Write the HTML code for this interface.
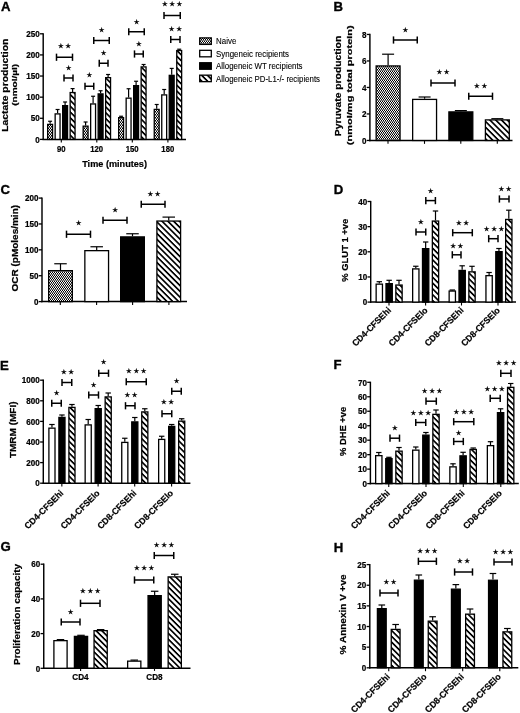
<!DOCTYPE html>
<html><head><meta charset="utf-8"><title>Figure</title>
<style>html,body{margin:0;padding:0;background:#fff;overflow:hidden}svg{display:block}</style>
</head><body>
<svg width="520" height="713" viewBox="0 0 520 713">
<defs>
<pattern id="pn" width="2" height="3" patternUnits="userSpaceOnUse"><rect width="2" height="3" fill="#000"/><rect x="0" y="0" width="1" height="1.5" fill="#fff"/><rect x="1" y="1.5" width="1" height="1.5" fill="#fff"/></pattern>
<pattern id="ph" width="4.1" height="4.1" patternUnits="userSpaceOnUse" patternTransform="rotate(45)"><rect width="4.1" height="4.1" fill="#fff"/><rect x="0" y="0" width="4.1" height="1.7" fill="#000"/></pattern>
</defs>
<rect width="520" height="713" fill="#fff"/>
<text x="0.90" y="10.90" font-family="Liberation Sans, sans-serif" font-weight="bold" font-size="13.2" text-anchor="start" stroke="#000" stroke-width="0.35">A</text>
<text x="333.40" y="10.50" font-family="Liberation Sans, sans-serif" font-weight="bold" font-size="13.2" text-anchor="start" stroke="#000" stroke-width="0.35">B</text>
<text x="0.50" y="194.00" font-family="Liberation Sans, sans-serif" font-weight="bold" font-size="13.2" text-anchor="start" stroke="#000" stroke-width="0.35">C</text>
<text x="333.80" y="193.80" font-family="Liberation Sans, sans-serif" font-weight="bold" font-size="13.2" text-anchor="start" stroke="#000" stroke-width="0.35">D</text>
<text x="0.10" y="369.50" font-family="Liberation Sans, sans-serif" font-weight="bold" font-size="13.2" text-anchor="start" stroke="#000" stroke-width="0.35">E</text>
<text x="333.60" y="369.10" font-family="Liberation Sans, sans-serif" font-weight="bold" font-size="13.2" text-anchor="start" stroke="#000" stroke-width="0.35">F</text>
<text x="0.50" y="551.40" font-family="Liberation Sans, sans-serif" font-weight="bold" font-size="13.2" text-anchor="start" stroke="#000" stroke-width="0.35">G</text>
<text x="333.70" y="551.50" font-family="Liberation Sans, sans-serif" font-weight="bold" font-size="13.2" text-anchor="start" stroke="#000" stroke-width="0.35">H</text>
<line x1="43.20" y1="33.20" x2="43.20" y2="140.10" stroke="#000" stroke-width="1.45"/>
<line x1="42.50" y1="139.40" x2="186.00" y2="139.40" stroke="#000" stroke-width="1.5"/>
<line x1="40.00" y1="139.40" x2="43.20" y2="139.40" stroke="#000" stroke-width="1.3"/>
<text x="39.70" y="142.60" font-family="Liberation Sans, sans-serif" font-weight="bold" font-size="8.8" text-anchor="end" textLength="4.5" lengthAdjust="spacingAndGlyphs" stroke="#000" stroke-width="0.22">0</text>
<line x1="40.00" y1="118.28" x2="43.20" y2="118.28" stroke="#000" stroke-width="1.3"/>
<text x="39.70" y="121.48" font-family="Liberation Sans, sans-serif" font-weight="bold" font-size="8.8" text-anchor="end" textLength="9.0" lengthAdjust="spacingAndGlyphs" stroke="#000" stroke-width="0.22">50</text>
<line x1="40.00" y1="97.16" x2="43.20" y2="97.16" stroke="#000" stroke-width="1.3"/>
<text x="39.70" y="100.36" font-family="Liberation Sans, sans-serif" font-weight="bold" font-size="8.8" text-anchor="end" textLength="13.5" lengthAdjust="spacingAndGlyphs" stroke="#000" stroke-width="0.22">100</text>
<line x1="40.00" y1="76.04" x2="43.20" y2="76.04" stroke="#000" stroke-width="1.3"/>
<text x="39.70" y="79.24" font-family="Liberation Sans, sans-serif" font-weight="bold" font-size="8.8" text-anchor="end" textLength="13.5" lengthAdjust="spacingAndGlyphs" stroke="#000" stroke-width="0.22">150</text>
<line x1="40.00" y1="54.92" x2="43.20" y2="54.92" stroke="#000" stroke-width="1.3"/>
<text x="39.70" y="58.12" font-family="Liberation Sans, sans-serif" font-weight="bold" font-size="8.8" text-anchor="end" textLength="13.5" lengthAdjust="spacingAndGlyphs" stroke="#000" stroke-width="0.22">200</text>
<line x1="40.00" y1="33.80" x2="43.20" y2="33.80" stroke="#000" stroke-width="1.3"/>
<text x="39.70" y="37.00" font-family="Liberation Sans, sans-serif" font-weight="bold" font-size="8.8" text-anchor="end" textLength="13.5" lengthAdjust="spacingAndGlyphs" stroke="#000" stroke-width="0.22">250</text>
<line x1="50.10" y1="121.25" x2="50.10" y2="123.75" stroke="#000" stroke-width="1.2"/>
<line x1="48.10" y1="121.25" x2="52.10" y2="121.25" stroke="#000" stroke-width="1.2"/>
<rect x="47.65" y="124.40" width="4.90" height="15.00" fill="url(#pn)" stroke="#000" stroke-width="1.3"/>
<line x1="57.60" y1="109.50" x2="57.60" y2="113.25" stroke="#000" stroke-width="1.2"/>
<line x1="55.60" y1="109.50" x2="59.60" y2="109.50" stroke="#000" stroke-width="1.2"/>
<rect x="55.15" y="113.90" width="4.90" height="25.50" fill="#fff" stroke="#000" stroke-width="1.3"/>
<line x1="65.10" y1="102.00" x2="65.10" y2="105.00" stroke="#000" stroke-width="1.2"/>
<line x1="63.10" y1="102.00" x2="67.10" y2="102.00" stroke="#000" stroke-width="1.2"/>
<rect x="62.65" y="105.65" width="4.90" height="33.75" fill="#000" stroke="#000" stroke-width="1.3"/>
<line x1="72.60" y1="88.60" x2="72.60" y2="91.90" stroke="#000" stroke-width="1.2"/>
<line x1="70.60" y1="88.60" x2="74.60" y2="88.60" stroke="#000" stroke-width="1.2"/>
<rect x="70.15" y="92.55" width="4.90" height="46.85" fill="url(#ph)" stroke="#000" stroke-width="1.3"/>
<line x1="85.60" y1="122.00" x2="85.60" y2="125.50" stroke="#000" stroke-width="1.2"/>
<line x1="83.60" y1="122.00" x2="87.60" y2="122.00" stroke="#000" stroke-width="1.2"/>
<rect x="83.15" y="126.15" width="4.90" height="13.25" fill="url(#pn)" stroke="#000" stroke-width="1.3"/>
<line x1="93.10" y1="96.25" x2="93.10" y2="103.30" stroke="#000" stroke-width="1.2"/>
<line x1="91.10" y1="96.25" x2="95.10" y2="96.25" stroke="#000" stroke-width="1.2"/>
<rect x="90.65" y="103.95" width="4.90" height="35.45" fill="#fff" stroke="#000" stroke-width="1.3"/>
<line x1="100.60" y1="90.75" x2="100.60" y2="93.25" stroke="#000" stroke-width="1.2"/>
<line x1="98.60" y1="90.75" x2="102.60" y2="90.75" stroke="#000" stroke-width="1.2"/>
<rect x="98.15" y="93.90" width="4.90" height="45.50" fill="#000" stroke="#000" stroke-width="1.3"/>
<line x1="108.10" y1="74.50" x2="108.10" y2="77.00" stroke="#000" stroke-width="1.2"/>
<line x1="106.10" y1="74.50" x2="110.10" y2="74.50" stroke="#000" stroke-width="1.2"/>
<rect x="105.65" y="77.65" width="4.90" height="61.75" fill="url(#ph)" stroke="#000" stroke-width="1.3"/>
<line x1="121.10" y1="116.25" x2="121.10" y2="117.00" stroke="#000" stroke-width="1.2"/>
<line x1="119.10" y1="116.25" x2="123.10" y2="116.25" stroke="#000" stroke-width="1.2"/>
<rect x="118.65" y="117.65" width="4.90" height="21.75" fill="url(#pn)" stroke="#000" stroke-width="1.3"/>
<line x1="128.60" y1="88.75" x2="128.60" y2="97.50" stroke="#000" stroke-width="1.2"/>
<line x1="126.60" y1="88.75" x2="130.60" y2="88.75" stroke="#000" stroke-width="1.2"/>
<rect x="126.15" y="98.15" width="4.90" height="41.25" fill="#fff" stroke="#000" stroke-width="1.3"/>
<line x1="136.10" y1="81.25" x2="136.10" y2="85.00" stroke="#000" stroke-width="1.2"/>
<line x1="134.10" y1="81.25" x2="138.10" y2="81.25" stroke="#000" stroke-width="1.2"/>
<rect x="133.65" y="85.65" width="4.90" height="53.75" fill="#000" stroke="#000" stroke-width="1.3"/>
<line x1="143.60" y1="64.50" x2="143.60" y2="66.25" stroke="#000" stroke-width="1.2"/>
<line x1="141.60" y1="64.50" x2="145.60" y2="64.50" stroke="#000" stroke-width="1.2"/>
<rect x="141.15" y="66.90" width="4.90" height="72.50" fill="url(#ph)" stroke="#000" stroke-width="1.3"/>
<line x1="156.70" y1="104.50" x2="156.70" y2="108.75" stroke="#000" stroke-width="1.2"/>
<line x1="154.70" y1="104.50" x2="158.70" y2="104.50" stroke="#000" stroke-width="1.2"/>
<rect x="154.25" y="109.40" width="4.90" height="30.00" fill="url(#pn)" stroke="#000" stroke-width="1.3"/>
<line x1="164.20" y1="89.50" x2="164.20" y2="94.25" stroke="#000" stroke-width="1.2"/>
<line x1="162.20" y1="89.50" x2="166.20" y2="89.50" stroke="#000" stroke-width="1.2"/>
<rect x="161.75" y="94.90" width="4.90" height="44.50" fill="#fff" stroke="#000" stroke-width="1.3"/>
<line x1="171.70" y1="68.40" x2="171.70" y2="74.70" stroke="#000" stroke-width="1.2"/>
<line x1="169.70" y1="68.40" x2="173.70" y2="68.40" stroke="#000" stroke-width="1.2"/>
<rect x="169.25" y="75.35" width="4.90" height="64.05" fill="#000" stroke="#000" stroke-width="1.3"/>
<line x1="179.20" y1="49.20" x2="179.20" y2="49.90" stroke="#000" stroke-width="1.2"/>
<line x1="177.20" y1="49.20" x2="181.20" y2="49.20" stroke="#000" stroke-width="1.2"/>
<rect x="176.75" y="50.55" width="4.90" height="88.85" fill="url(#ph)" stroke="#000" stroke-width="1.3"/>
<line x1="61.30" y1="139.40" x2="61.30" y2="142.40" stroke="#000" stroke-width="1.1"/>
<line x1="96.80" y1="139.40" x2="96.80" y2="142.40" stroke="#000" stroke-width="1.1"/>
<line x1="132.30" y1="139.40" x2="132.30" y2="142.40" stroke="#000" stroke-width="1.1"/>
<line x1="167.90" y1="139.40" x2="167.90" y2="142.40" stroke="#000" stroke-width="1.1"/>
<text x="61.20" y="151.50" font-family="Liberation Sans, sans-serif" font-weight="bold" font-size="8.6" text-anchor="middle" textLength="8.6" lengthAdjust="spacingAndGlyphs" stroke="#000" stroke-width="0.22">90</text>
<text x="96.70" y="151.50" font-family="Liberation Sans, sans-serif" font-weight="bold" font-size="8.6" text-anchor="middle" textLength="12.9" lengthAdjust="spacingAndGlyphs" stroke="#000" stroke-width="0.22">120</text>
<text x="132.20" y="151.50" font-family="Liberation Sans, sans-serif" font-weight="bold" font-size="8.6" text-anchor="middle" textLength="12.9" lengthAdjust="spacingAndGlyphs" stroke="#000" stroke-width="0.22">150</text>
<text x="167.80" y="151.50" font-family="Liberation Sans, sans-serif" font-weight="bold" font-size="8.6" text-anchor="middle" textLength="12.9" lengthAdjust="spacingAndGlyphs" stroke="#000" stroke-width="0.22">180</text>
<text x="114.60" y="167.10" font-family="Liberation Sans, sans-serif" font-weight="bold" font-size="9.7" text-anchor="middle" textLength="64.8" lengthAdjust="spacingAndGlyphs" stroke="#000" stroke-width="0.22">Time (minutes)</text>
<text x="8.50" y="85.20" font-family="Liberation Sans, sans-serif" font-weight="bold" font-size="9" text-anchor="middle" textLength="93.0" lengthAdjust="spacingAndGlyphs" transform="rotate(-90 8.50 85.20)" stroke="#000" stroke-width="0.22">Lactate production</text>
<text x="17.10" y="84.80" font-family="Liberation Sans, sans-serif" font-weight="bold" font-size="8" text-anchor="middle" textLength="42.0" lengthAdjust="spacingAndGlyphs" transform="rotate(-90 17.10 84.80)" stroke="#000" stroke-width="0.22">(nmol/µl)</text>
<line x1="56.50" y1="57.25" x2="72.50" y2="57.25" stroke="#000" stroke-width="1.5"/>
<line x1="56.50" y1="53.65" x2="56.50" y2="60.85" stroke="#000" stroke-width="1.5"/>
<line x1="72.50" y1="53.65" x2="72.50" y2="60.85" stroke="#000" stroke-width="1.5"/>
<text x="60.85" y="48.25" font-family="DejaVu Sans, sans-serif" font-size="6.4" text-anchor="middle" stroke="#000" stroke-width="0.3">★</text>
<text x="68.15" y="48.25" font-family="DejaVu Sans, sans-serif" font-size="6.4" text-anchor="middle" stroke="#000" stroke-width="0.3">★</text>
<line x1="64.00" y1="78.00" x2="73.00" y2="78.00" stroke="#000" stroke-width="1.5"/>
<line x1="64.00" y1="74.40" x2="64.00" y2="81.60" stroke="#000" stroke-width="1.5"/>
<line x1="73.00" y1="74.40" x2="73.00" y2="81.60" stroke="#000" stroke-width="1.5"/>
<text x="68.50" y="69.50" font-family="DejaVu Sans, sans-serif" font-size="6.4" text-anchor="middle" stroke="#000" stroke-width="0.3">★</text>
<line x1="85.00" y1="86.25" x2="93.75" y2="86.25" stroke="#000" stroke-width="1.5"/>
<line x1="85.00" y1="82.65" x2="85.00" y2="89.85" stroke="#000" stroke-width="1.5"/>
<line x1="93.75" y1="82.65" x2="93.75" y2="89.85" stroke="#000" stroke-width="1.5"/>
<text x="89.38" y="76.50" font-family="DejaVu Sans, sans-serif" font-size="6.4" text-anchor="middle" stroke="#000" stroke-width="0.3">★</text>
<line x1="93.75" y1="40.50" x2="109.25" y2="40.50" stroke="#000" stroke-width="1.5"/>
<line x1="93.75" y1="36.90" x2="93.75" y2="44.10" stroke="#000" stroke-width="1.5"/>
<line x1="109.25" y1="36.90" x2="109.25" y2="44.10" stroke="#000" stroke-width="1.5"/>
<text x="101.50" y="32.00" font-family="DejaVu Sans, sans-serif" font-size="6.4" text-anchor="middle" stroke="#000" stroke-width="0.3">★</text>
<line x1="99.25" y1="63.25" x2="108.00" y2="63.25" stroke="#000" stroke-width="1.5"/>
<line x1="99.25" y1="59.65" x2="99.25" y2="66.85" stroke="#000" stroke-width="1.5"/>
<line x1="108.00" y1="59.65" x2="108.00" y2="66.85" stroke="#000" stroke-width="1.5"/>
<text x="103.62" y="55.00" font-family="DejaVu Sans, sans-serif" font-size="6.4" text-anchor="middle" stroke="#000" stroke-width="0.3">★</text>
<line x1="128.75" y1="31.75" x2="144.25" y2="31.75" stroke="#000" stroke-width="1.5"/>
<line x1="128.75" y1="28.15" x2="128.75" y2="35.35" stroke="#000" stroke-width="1.5"/>
<line x1="144.25" y1="28.15" x2="144.25" y2="35.35" stroke="#000" stroke-width="1.5"/>
<text x="136.50" y="23.50" font-family="DejaVu Sans, sans-serif" font-size="6.4" text-anchor="middle" stroke="#000" stroke-width="0.3">★</text>
<line x1="134.50" y1="54.00" x2="143.25" y2="54.00" stroke="#000" stroke-width="1.5"/>
<line x1="134.50" y1="50.40" x2="134.50" y2="57.60" stroke="#000" stroke-width="1.5"/>
<line x1="143.25" y1="50.40" x2="143.25" y2="57.60" stroke="#000" stroke-width="1.5"/>
<text x="138.88" y="45.50" font-family="DejaVu Sans, sans-serif" font-size="6.4" text-anchor="middle" stroke="#000" stroke-width="0.3">★</text>
<line x1="164.00" y1="15.50" x2="180.25" y2="15.50" stroke="#000" stroke-width="1.5"/>
<line x1="164.00" y1="11.90" x2="164.00" y2="19.10" stroke="#000" stroke-width="1.5"/>
<line x1="180.25" y1="11.90" x2="180.25" y2="19.10" stroke="#000" stroke-width="1.5"/>
<text x="164.82" y="6.40" font-family="DejaVu Sans, sans-serif" font-size="6.4" text-anchor="middle" stroke="#000" stroke-width="0.3">★</text>
<text x="172.12" y="6.40" font-family="DejaVu Sans, sans-serif" font-size="6.4" text-anchor="middle" stroke="#000" stroke-width="0.3">★</text>
<text x="179.43" y="6.40" font-family="DejaVu Sans, sans-serif" font-size="6.4" text-anchor="middle" stroke="#000" stroke-width="0.3">★</text>
<line x1="170.75" y1="39.50" x2="180.00" y2="39.50" stroke="#000" stroke-width="1.5"/>
<line x1="170.75" y1="35.90" x2="170.75" y2="43.10" stroke="#000" stroke-width="1.5"/>
<line x1="180.00" y1="35.90" x2="180.00" y2="43.10" stroke="#000" stroke-width="1.5"/>
<text x="171.72" y="30.75" font-family="DejaVu Sans, sans-serif" font-size="6.4" text-anchor="middle" stroke="#000" stroke-width="0.3">★</text>
<text x="179.03" y="30.75" font-family="DejaVu Sans, sans-serif" font-size="6.4" text-anchor="middle" stroke="#000" stroke-width="0.3">★</text>
<rect x="199.7" y="37.90" width="11.6" height="6.5" fill="url(#pn)" stroke="#000" stroke-width="1.3"/>
<text x="216.10" y="44.25" font-family="Liberation Sans, sans-serif" font-size="9.3" text-anchor="start" textLength="20.2" lengthAdjust="spacingAndGlyphs" stroke="#000" stroke-width="0.12">Naive</text>
<rect x="199.7" y="50.32" width="11.6" height="6.5" fill="#fff" stroke="#000" stroke-width="1.3"/>
<text x="216.10" y="56.67" font-family="Liberation Sans, sans-serif" font-size="9.3" text-anchor="start" textLength="72.9" lengthAdjust="spacingAndGlyphs" stroke="#000" stroke-width="0.12">Syngeneic recipients</text>
<rect x="199.7" y="62.74" width="11.6" height="6.5" fill="#000" stroke="#000" stroke-width="1.3"/>
<text x="216.10" y="69.09" font-family="Liberation Sans, sans-serif" font-size="9.3" text-anchor="start" textLength="86.4" lengthAdjust="spacingAndGlyphs" stroke="#000" stroke-width="0.12">Allogeneic WT recipients</text>
<rect x="199.7" y="75.16" width="11.6" height="6.5" fill="url(#ph)" stroke="#000" stroke-width="1.3"/>
<text x="216.10" y="81.51" font-family="Liberation Sans, sans-serif" font-size="9.3" text-anchor="start" textLength="103.9" lengthAdjust="spacingAndGlyphs" stroke="#000" stroke-width="0.12">Allogeneic PD-L1-/- recipients</text>
<line x1="369.90" y1="33.80" x2="369.90" y2="141.15" stroke="#000" stroke-width="1.45"/>
<line x1="369.20" y1="140.45" x2="512.50" y2="140.45" stroke="#000" stroke-width="1.5"/>
<line x1="366.70" y1="140.45" x2="369.90" y2="140.45" stroke="#000" stroke-width="1.3"/>
<text x="366.40" y="143.65" font-family="Liberation Sans, sans-serif" font-weight="bold" font-size="8.8" text-anchor="end" textLength="4.5" lengthAdjust="spacingAndGlyphs" stroke="#000" stroke-width="0.22">0</text>
<line x1="366.70" y1="113.95" x2="369.90" y2="113.95" stroke="#000" stroke-width="1.3"/>
<text x="366.40" y="117.15" font-family="Liberation Sans, sans-serif" font-weight="bold" font-size="8.8" text-anchor="end" textLength="4.5" lengthAdjust="spacingAndGlyphs" stroke="#000" stroke-width="0.22">2</text>
<line x1="366.70" y1="87.45" x2="369.90" y2="87.45" stroke="#000" stroke-width="1.3"/>
<text x="366.40" y="90.65" font-family="Liberation Sans, sans-serif" font-weight="bold" font-size="8.8" text-anchor="end" textLength="4.5" lengthAdjust="spacingAndGlyphs" stroke="#000" stroke-width="0.22">4</text>
<line x1="366.70" y1="60.95" x2="369.90" y2="60.95" stroke="#000" stroke-width="1.3"/>
<text x="366.40" y="64.15" font-family="Liberation Sans, sans-serif" font-weight="bold" font-size="8.8" text-anchor="end" textLength="4.5" lengthAdjust="spacingAndGlyphs" stroke="#000" stroke-width="0.22">6</text>
<line x1="366.70" y1="34.45" x2="369.90" y2="34.45" stroke="#000" stroke-width="1.3"/>
<text x="366.40" y="37.65" font-family="Liberation Sans, sans-serif" font-weight="bold" font-size="8.8" text-anchor="end" textLength="4.5" lengthAdjust="spacingAndGlyphs" stroke="#000" stroke-width="0.22">8</text>
<line x1="388.10" y1="54.20" x2="388.10" y2="65.30" stroke="#000" stroke-width="1.2"/>
<line x1="382.10" y1="54.20" x2="394.10" y2="54.20" stroke="#000" stroke-width="1.2"/>
<rect x="376.15" y="65.95" width="23.90" height="74.50" fill="url(#pn)" stroke="#000" stroke-width="1.3"/>
<line x1="424.60" y1="97.00" x2="424.60" y2="98.75" stroke="#000" stroke-width="1.2"/>
<line x1="418.60" y1="97.00" x2="430.60" y2="97.00" stroke="#000" stroke-width="1.2"/>
<rect x="412.65" y="99.40" width="23.90" height="41.05" fill="#fff" stroke="#000" stroke-width="1.3"/>
<line x1="460.85" y1="110.60" x2="460.85" y2="111.25" stroke="#000" stroke-width="1.2"/>
<line x1="454.85" y1="110.60" x2="466.85" y2="110.60" stroke="#000" stroke-width="1.2"/>
<rect x="448.90" y="111.90" width="23.90" height="28.55" fill="#000" stroke="#000" stroke-width="1.3"/>
<line x1="497.35" y1="118.70" x2="497.35" y2="119.25" stroke="#000" stroke-width="1.2"/>
<line x1="491.35" y1="118.70" x2="503.35" y2="118.70" stroke="#000" stroke-width="1.2"/>
<rect x="485.40" y="119.90" width="23.90" height="20.55" fill="url(#ph)" stroke="#000" stroke-width="1.3"/>
<line x1="388.00" y1="140.45" x2="388.00" y2="143.85" stroke="#000" stroke-width="1.1"/>
<line x1="424.50" y1="140.45" x2="424.50" y2="143.85" stroke="#000" stroke-width="1.1"/>
<line x1="460.80" y1="140.45" x2="460.80" y2="143.85" stroke="#000" stroke-width="1.1"/>
<line x1="497.30" y1="140.45" x2="497.30" y2="143.85" stroke="#000" stroke-width="1.1"/>
<text x="341.10" y="86.00" font-family="Liberation Sans, sans-serif" font-weight="bold" font-size="8.4" text-anchor="middle" textLength="100.4" lengthAdjust="spacingAndGlyphs" transform="rotate(-90 341.10 86.00)" stroke="#000" stroke-width="0.22">Pyruvate production</text>
<text x="352.20" y="85.20" font-family="Liberation Sans, sans-serif" font-weight="bold" font-size="7.7" text-anchor="middle" textLength="120.0" lengthAdjust="spacingAndGlyphs" transform="rotate(-90 352.20 85.20)" stroke="#000" stroke-width="0.22">(nmol/mg total protein)</text>
<line x1="393.50" y1="40.00" x2="417.25" y2="40.00" stroke="#000" stroke-width="1.5"/>
<line x1="393.50" y1="36.40" x2="393.50" y2="43.60" stroke="#000" stroke-width="1.5"/>
<line x1="417.25" y1="36.40" x2="417.25" y2="43.60" stroke="#000" stroke-width="1.5"/>
<text x="405.38" y="32.00" font-family="DejaVu Sans, sans-serif" font-size="6.4" text-anchor="middle" stroke="#000" stroke-width="0.3">★</text>
<line x1="431.00" y1="83.00" x2="455.00" y2="83.00" stroke="#000" stroke-width="1.5"/>
<line x1="431.00" y1="79.40" x2="431.00" y2="86.60" stroke="#000" stroke-width="1.5"/>
<line x1="455.00" y1="79.40" x2="455.00" y2="86.60" stroke="#000" stroke-width="1.5"/>
<text x="439.35" y="74.25" font-family="DejaVu Sans, sans-serif" font-size="6.4" text-anchor="middle" stroke="#000" stroke-width="0.3">★</text>
<text x="446.65" y="74.25" font-family="DejaVu Sans, sans-serif" font-size="6.4" text-anchor="middle" stroke="#000" stroke-width="0.3">★</text>
<line x1="468.75" y1="96.25" x2="492.50" y2="96.25" stroke="#000" stroke-width="1.5"/>
<line x1="468.75" y1="92.65" x2="468.75" y2="99.85" stroke="#000" stroke-width="1.5"/>
<line x1="492.50" y1="92.65" x2="492.50" y2="99.85" stroke="#000" stroke-width="1.5"/>
<text x="476.98" y="88.00" font-family="DejaVu Sans, sans-serif" font-size="6.4" text-anchor="middle" stroke="#000" stroke-width="0.3">★</text>
<text x="484.27" y="88.00" font-family="DejaVu Sans, sans-serif" font-size="6.4" text-anchor="middle" stroke="#000" stroke-width="0.3">★</text>
<line x1="42.00" y1="197.50" x2="42.00" y2="302.30" stroke="#000" stroke-width="1.45"/>
<line x1="41.30" y1="301.60" x2="187.00" y2="301.60" stroke="#000" stroke-width="1.5"/>
<line x1="38.80" y1="301.60" x2="42.00" y2="301.60" stroke="#000" stroke-width="1.3"/>
<text x="38.50" y="304.80" font-family="Liberation Sans, sans-serif" font-weight="bold" font-size="8.8" text-anchor="end" textLength="4.5" lengthAdjust="spacingAndGlyphs" stroke="#000" stroke-width="0.22">0</text>
<line x1="38.80" y1="275.72" x2="42.00" y2="275.72" stroke="#000" stroke-width="1.3"/>
<text x="38.50" y="278.92" font-family="Liberation Sans, sans-serif" font-weight="bold" font-size="8.8" text-anchor="end" textLength="9.0" lengthAdjust="spacingAndGlyphs" stroke="#000" stroke-width="0.22">50</text>
<line x1="38.80" y1="249.84" x2="42.00" y2="249.84" stroke="#000" stroke-width="1.3"/>
<text x="38.50" y="253.04" font-family="Liberation Sans, sans-serif" font-weight="bold" font-size="8.8" text-anchor="end" textLength="13.5" lengthAdjust="spacingAndGlyphs" stroke="#000" stroke-width="0.22">100</text>
<line x1="38.80" y1="223.96" x2="42.00" y2="223.96" stroke="#000" stroke-width="1.3"/>
<text x="38.50" y="227.16" font-family="Liberation Sans, sans-serif" font-weight="bold" font-size="8.8" text-anchor="end" textLength="13.5" lengthAdjust="spacingAndGlyphs" stroke="#000" stroke-width="0.22">150</text>
<line x1="38.80" y1="198.08" x2="42.00" y2="198.08" stroke="#000" stroke-width="1.3"/>
<text x="38.50" y="201.28" font-family="Liberation Sans, sans-serif" font-weight="bold" font-size="8.8" text-anchor="end" textLength="13.5" lengthAdjust="spacingAndGlyphs" stroke="#000" stroke-width="0.22">200</text>
<line x1="60.50" y1="263.75" x2="60.50" y2="270.00" stroke="#000" stroke-width="1.2"/>
<line x1="54.25" y1="263.75" x2="66.75" y2="263.75" stroke="#000" stroke-width="1.2"/>
<rect x="48.65" y="270.65" width="23.70" height="30.95" fill="url(#pn)" stroke="#000" stroke-width="1.3"/>
<line x1="96.70" y1="246.75" x2="96.70" y2="250.00" stroke="#000" stroke-width="1.2"/>
<line x1="90.45" y1="246.75" x2="102.95" y2="246.75" stroke="#000" stroke-width="1.2"/>
<rect x="84.85" y="250.65" width="23.70" height="50.95" fill="#fff" stroke="#000" stroke-width="1.3"/>
<line x1="132.50" y1="233.75" x2="132.50" y2="236.25" stroke="#000" stroke-width="1.2"/>
<line x1="126.25" y1="233.75" x2="138.75" y2="233.75" stroke="#000" stroke-width="1.2"/>
<rect x="120.65" y="236.90" width="23.70" height="64.70" fill="#000" stroke="#000" stroke-width="1.3"/>
<line x1="168.75" y1="217.10" x2="168.75" y2="220.40" stroke="#000" stroke-width="1.2"/>
<line x1="162.50" y1="217.10" x2="175.00" y2="217.10" stroke="#000" stroke-width="1.2"/>
<rect x="156.90" y="221.05" width="23.70" height="80.55" fill="url(#ph)" stroke="#000" stroke-width="1.3"/>
<line x1="60.30" y1="301.60" x2="60.30" y2="305.00" stroke="#000" stroke-width="1.1"/>
<line x1="96.60" y1="301.60" x2="96.60" y2="305.00" stroke="#000" stroke-width="1.1"/>
<line x1="132.60" y1="301.60" x2="132.60" y2="305.00" stroke="#000" stroke-width="1.1"/>
<line x1="168.90" y1="301.60" x2="168.90" y2="305.00" stroke="#000" stroke-width="1.1"/>
<text x="17.70" y="248.20" font-family="Liberation Sans, sans-serif" font-weight="bold" font-size="8.5" text-anchor="middle" textLength="86.5" lengthAdjust="spacingAndGlyphs" transform="rotate(-90 17.70 248.20)" stroke="#000" stroke-width="0.22">OCR (pMoles/min)</text>
<line x1="66.50" y1="234.25" x2="90.50" y2="234.25" stroke="#000" stroke-width="1.5"/>
<line x1="66.50" y1="230.65" x2="66.50" y2="237.85" stroke="#000" stroke-width="1.5"/>
<line x1="90.50" y1="230.65" x2="90.50" y2="237.85" stroke="#000" stroke-width="1.5"/>
<text x="78.50" y="225.40" font-family="DejaVu Sans, sans-serif" font-size="6.4" text-anchor="middle" stroke="#000" stroke-width="0.3">★</text>
<line x1="103.00" y1="220.25" x2="127.00" y2="220.25" stroke="#000" stroke-width="1.5"/>
<line x1="103.00" y1="216.65" x2="103.00" y2="223.85" stroke="#000" stroke-width="1.5"/>
<line x1="127.00" y1="216.65" x2="127.00" y2="223.85" stroke="#000" stroke-width="1.5"/>
<text x="115.00" y="211.70" font-family="DejaVu Sans, sans-serif" font-size="6.4" text-anchor="middle" stroke="#000" stroke-width="0.3">★</text>
<line x1="141.25" y1="204.25" x2="165.00" y2="204.25" stroke="#000" stroke-width="1.5"/>
<line x1="141.25" y1="200.65" x2="141.25" y2="207.85" stroke="#000" stroke-width="1.5"/>
<line x1="165.00" y1="200.65" x2="165.00" y2="207.85" stroke="#000" stroke-width="1.5"/>
<text x="150.25" y="195.80" font-family="DejaVu Sans, sans-serif" font-size="6.4" text-anchor="middle" stroke="#000" stroke-width="0.3">★</text>
<text x="157.55" y="195.80" font-family="DejaVu Sans, sans-serif" font-size="6.4" text-anchor="middle" stroke="#000" stroke-width="0.3">★</text>
<line x1="370.70" y1="200.90" x2="370.70" y2="302.80" stroke="#000" stroke-width="1.45"/>
<line x1="370.00" y1="302.10" x2="516.00" y2="302.10" stroke="#000" stroke-width="1.5"/>
<line x1="367.50" y1="302.10" x2="370.70" y2="302.10" stroke="#000" stroke-width="1.3"/>
<text x="367.20" y="305.30" font-family="Liberation Sans, sans-serif" font-weight="bold" font-size="8.8" text-anchor="end" textLength="4.5" lengthAdjust="spacingAndGlyphs" stroke="#000" stroke-width="0.22">0</text>
<line x1="367.50" y1="276.95" x2="370.70" y2="276.95" stroke="#000" stroke-width="1.3"/>
<text x="367.20" y="280.15" font-family="Liberation Sans, sans-serif" font-weight="bold" font-size="8.8" text-anchor="end" textLength="9.0" lengthAdjust="spacingAndGlyphs" stroke="#000" stroke-width="0.22">10</text>
<line x1="367.50" y1="251.80" x2="370.70" y2="251.80" stroke="#000" stroke-width="1.3"/>
<text x="367.20" y="255.00" font-family="Liberation Sans, sans-serif" font-weight="bold" font-size="8.8" text-anchor="end" textLength="9.0" lengthAdjust="spacingAndGlyphs" stroke="#000" stroke-width="0.22">20</text>
<line x1="367.50" y1="226.65" x2="370.70" y2="226.65" stroke="#000" stroke-width="1.3"/>
<text x="367.20" y="229.85" font-family="Liberation Sans, sans-serif" font-weight="bold" font-size="8.8" text-anchor="end" textLength="9.0" lengthAdjust="spacingAndGlyphs" stroke="#000" stroke-width="0.22">30</text>
<line x1="367.50" y1="201.50" x2="370.70" y2="201.50" stroke="#000" stroke-width="1.3"/>
<text x="367.20" y="204.70" font-family="Liberation Sans, sans-serif" font-weight="bold" font-size="8.8" text-anchor="end" textLength="9.0" lengthAdjust="spacingAndGlyphs" stroke="#000" stroke-width="0.22">40</text>
<line x1="379.30" y1="281.70" x2="379.30" y2="283.50" stroke="#000" stroke-width="1.2"/>
<line x1="376.60" y1="281.70" x2="382.00" y2="281.70" stroke="#000" stroke-width="1.2"/>
<rect x="376.15" y="284.15" width="6.30" height="17.95" fill="#fff" stroke="#000" stroke-width="1.3"/>
<line x1="389.15" y1="280.30" x2="389.15" y2="283.00" stroke="#000" stroke-width="1.2"/>
<line x1="386.45" y1="280.30" x2="391.85" y2="280.30" stroke="#000" stroke-width="1.2"/>
<rect x="386.00" y="283.65" width="6.30" height="18.45" fill="#000" stroke="#000" stroke-width="1.3"/>
<line x1="399.00" y1="280.30" x2="399.00" y2="284.40" stroke="#000" stroke-width="1.2"/>
<line x1="396.30" y1="280.30" x2="401.70" y2="280.30" stroke="#000" stroke-width="1.2"/>
<rect x="395.85" y="285.05" width="6.30" height="17.05" fill="url(#ph)" stroke="#000" stroke-width="1.3"/>
<line x1="415.80" y1="266.25" x2="415.80" y2="268.25" stroke="#000" stroke-width="1.2"/>
<line x1="413.10" y1="266.25" x2="418.50" y2="266.25" stroke="#000" stroke-width="1.2"/>
<rect x="412.65" y="268.90" width="6.30" height="33.20" fill="#fff" stroke="#000" stroke-width="1.3"/>
<line x1="425.65" y1="242.00" x2="425.65" y2="248.00" stroke="#000" stroke-width="1.2"/>
<line x1="422.95" y1="242.00" x2="428.35" y2="242.00" stroke="#000" stroke-width="1.2"/>
<rect x="422.50" y="248.65" width="6.30" height="53.45" fill="#000" stroke="#000" stroke-width="1.3"/>
<line x1="435.50" y1="211.00" x2="435.50" y2="220.40" stroke="#000" stroke-width="1.2"/>
<line x1="432.80" y1="211.00" x2="438.20" y2="211.00" stroke="#000" stroke-width="1.2"/>
<rect x="432.35" y="221.05" width="6.30" height="81.05" fill="url(#ph)" stroke="#000" stroke-width="1.3"/>
<line x1="452.30" y1="290.00" x2="452.30" y2="290.40" stroke="#000" stroke-width="1.2"/>
<line x1="449.60" y1="290.00" x2="455.00" y2="290.00" stroke="#000" stroke-width="1.2"/>
<rect x="449.15" y="291.05" width="6.30" height="11.05" fill="#fff" stroke="#000" stroke-width="1.3"/>
<line x1="462.15" y1="265.80" x2="462.15" y2="269.80" stroke="#000" stroke-width="1.2"/>
<line x1="459.45" y1="265.80" x2="464.85" y2="265.80" stroke="#000" stroke-width="1.2"/>
<rect x="459.00" y="270.45" width="6.30" height="31.65" fill="#000" stroke="#000" stroke-width="1.3"/>
<line x1="472.00" y1="266.30" x2="472.00" y2="271.20" stroke="#000" stroke-width="1.2"/>
<line x1="469.30" y1="266.30" x2="474.70" y2="266.30" stroke="#000" stroke-width="1.2"/>
<rect x="468.85" y="271.85" width="6.30" height="30.25" fill="url(#ph)" stroke="#000" stroke-width="1.3"/>
<line x1="489.10" y1="272.50" x2="489.10" y2="275.00" stroke="#000" stroke-width="1.2"/>
<line x1="486.40" y1="272.50" x2="491.80" y2="272.50" stroke="#000" stroke-width="1.2"/>
<rect x="485.95" y="275.65" width="6.30" height="26.45" fill="#fff" stroke="#000" stroke-width="1.3"/>
<line x1="498.95" y1="248.50" x2="498.95" y2="251.00" stroke="#000" stroke-width="1.2"/>
<line x1="496.25" y1="248.50" x2="501.65" y2="248.50" stroke="#000" stroke-width="1.2"/>
<rect x="495.80" y="251.65" width="6.30" height="50.45" fill="#000" stroke="#000" stroke-width="1.3"/>
<line x1="508.80" y1="210.20" x2="508.80" y2="218.80" stroke="#000" stroke-width="1.2"/>
<line x1="506.10" y1="210.20" x2="511.50" y2="210.20" stroke="#000" stroke-width="1.2"/>
<rect x="505.65" y="219.45" width="6.30" height="82.65" fill="url(#ph)" stroke="#000" stroke-width="1.3"/>
<line x1="389.00" y1="302.10" x2="389.00" y2="305.50" stroke="#000" stroke-width="1.1"/>
<line x1="425.60" y1="302.10" x2="425.60" y2="305.50" stroke="#000" stroke-width="1.1"/>
<line x1="461.50" y1="302.10" x2="461.50" y2="305.50" stroke="#000" stroke-width="1.1"/>
<line x1="498.00" y1="302.10" x2="498.00" y2="305.50" stroke="#000" stroke-width="1.1"/>
<text x="391.60" y="310.90" font-family="Liberation Sans, sans-serif" font-weight="bold" font-size="8.9" text-anchor="end" textLength="50.8" lengthAdjust="spacingAndGlyphs" transform="rotate(-45 391.60 310.90)" stroke="#000" stroke-width="0.22">CD4-CFSEhi</text>
<text x="428.20" y="310.90" font-family="Liberation Sans, sans-serif" font-weight="bold" font-size="8.9" text-anchor="end" textLength="50.8" lengthAdjust="spacingAndGlyphs" transform="rotate(-45 428.20 310.90)" stroke="#000" stroke-width="0.22">CD4-CFSElo</text>
<text x="464.10" y="310.90" font-family="Liberation Sans, sans-serif" font-weight="bold" font-size="8.9" text-anchor="end" textLength="50.8" lengthAdjust="spacingAndGlyphs" transform="rotate(-45 464.10 310.90)" stroke="#000" stroke-width="0.22">CD8-CFSEhi</text>
<text x="500.60" y="310.90" font-family="Liberation Sans, sans-serif" font-weight="bold" font-size="8.9" text-anchor="end" textLength="50.8" lengthAdjust="spacingAndGlyphs" transform="rotate(-45 500.60 310.90)" stroke="#000" stroke-width="0.22">CD8-CFSElo</text>
<text x="347.80" y="250.20" font-family="Liberation Sans, sans-serif" font-weight="bold" font-size="9" text-anchor="middle" textLength="63.0" lengthAdjust="spacingAndGlyphs" transform="rotate(-90 347.80 250.20)" stroke="#000" stroke-width="0.22">% GLUT 1 +ve</text>
<line x1="416.00" y1="232.00" x2="425.75" y2="232.00" stroke="#000" stroke-width="1.5"/>
<line x1="416.00" y1="228.40" x2="416.00" y2="235.60" stroke="#000" stroke-width="1.5"/>
<line x1="425.75" y1="228.40" x2="425.75" y2="235.60" stroke="#000" stroke-width="1.5"/>
<text x="420.88" y="224.00" font-family="DejaVu Sans, sans-serif" font-size="6.4" text-anchor="middle" stroke="#000" stroke-width="0.3">★</text>
<line x1="425.80" y1="200.60" x2="435.40" y2="200.60" stroke="#000" stroke-width="1.5"/>
<line x1="425.80" y1="197.00" x2="425.80" y2="204.20" stroke="#000" stroke-width="1.5"/>
<line x1="435.40" y1="197.00" x2="435.40" y2="204.20" stroke="#000" stroke-width="1.5"/>
<text x="430.60" y="192.90" font-family="DejaVu Sans, sans-serif" font-size="6.4" text-anchor="middle" stroke="#000" stroke-width="0.3">★</text>
<line x1="452.70" y1="232.70" x2="472.30" y2="232.70" stroke="#000" stroke-width="1.5"/>
<line x1="452.70" y1="229.10" x2="452.70" y2="236.30" stroke="#000" stroke-width="1.5"/>
<line x1="472.30" y1="229.10" x2="472.30" y2="236.30" stroke="#000" stroke-width="1.5"/>
<text x="458.85" y="225.00" font-family="DejaVu Sans, sans-serif" font-size="6.4" text-anchor="middle" stroke="#000" stroke-width="0.3">★</text>
<text x="466.15" y="225.00" font-family="DejaVu Sans, sans-serif" font-size="6.4" text-anchor="middle" stroke="#000" stroke-width="0.3">★</text>
<line x1="452.30" y1="254.80" x2="461.00" y2="254.80" stroke="#000" stroke-width="1.5"/>
<line x1="452.30" y1="251.20" x2="452.30" y2="258.40" stroke="#000" stroke-width="1.5"/>
<line x1="461.00" y1="251.20" x2="461.00" y2="258.40" stroke="#000" stroke-width="1.5"/>
<text x="453.00" y="247.70" font-family="DejaVu Sans, sans-serif" font-size="6.4" text-anchor="middle" stroke="#000" stroke-width="0.3">★</text>
<text x="460.30" y="247.70" font-family="DejaVu Sans, sans-serif" font-size="6.4" text-anchor="middle" stroke="#000" stroke-width="0.3">★</text>
<line x1="488.70" y1="238.70" x2="498.00" y2="238.70" stroke="#000" stroke-width="1.5"/>
<line x1="488.70" y1="235.10" x2="488.70" y2="242.30" stroke="#000" stroke-width="1.5"/>
<line x1="498.00" y1="235.10" x2="498.00" y2="242.30" stroke="#000" stroke-width="1.5"/>
<text x="486.70" y="231.30" font-family="DejaVu Sans, sans-serif" font-size="6.4" text-anchor="middle" stroke="#000" stroke-width="0.3">★</text>
<text x="494.00" y="231.30" font-family="DejaVu Sans, sans-serif" font-size="6.4" text-anchor="middle" stroke="#000" stroke-width="0.3">★</text>
<text x="501.30" y="231.30" font-family="DejaVu Sans, sans-serif" font-size="6.4" text-anchor="middle" stroke="#000" stroke-width="0.3">★</text>
<line x1="499.40" y1="199.00" x2="509.00" y2="199.00" stroke="#000" stroke-width="1.5"/>
<line x1="499.40" y1="195.40" x2="499.40" y2="202.60" stroke="#000" stroke-width="1.5"/>
<line x1="509.00" y1="195.40" x2="509.00" y2="202.60" stroke="#000" stroke-width="1.5"/>
<text x="501.35" y="190.50" font-family="DejaVu Sans, sans-serif" font-size="6.4" text-anchor="middle" stroke="#000" stroke-width="0.3">★</text>
<text x="508.65" y="190.50" font-family="DejaVu Sans, sans-serif" font-size="6.4" text-anchor="middle" stroke="#000" stroke-width="0.3">★</text>
<line x1="43.30" y1="379.50" x2="43.30" y2="483.90" stroke="#000" stroke-width="1.45"/>
<line x1="42.60" y1="483.20" x2="190.40" y2="483.20" stroke="#000" stroke-width="1.5"/>
<line x1="40.10" y1="483.20" x2="43.30" y2="483.20" stroke="#000" stroke-width="1.3"/>
<text x="39.80" y="486.40" font-family="Liberation Sans, sans-serif" font-weight="bold" font-size="8.8" text-anchor="end" textLength="4.5" lengthAdjust="spacingAndGlyphs" stroke="#000" stroke-width="0.22">0</text>
<line x1="40.10" y1="462.60" x2="43.30" y2="462.60" stroke="#000" stroke-width="1.3"/>
<text x="39.80" y="465.80" font-family="Liberation Sans, sans-serif" font-weight="bold" font-size="8.8" text-anchor="end" textLength="13.5" lengthAdjust="spacingAndGlyphs" stroke="#000" stroke-width="0.22">200</text>
<line x1="40.10" y1="442.00" x2="43.30" y2="442.00" stroke="#000" stroke-width="1.3"/>
<text x="39.80" y="445.20" font-family="Liberation Sans, sans-serif" font-weight="bold" font-size="8.8" text-anchor="end" textLength="13.5" lengthAdjust="spacingAndGlyphs" stroke="#000" stroke-width="0.22">400</text>
<line x1="40.10" y1="421.40" x2="43.30" y2="421.40" stroke="#000" stroke-width="1.3"/>
<text x="39.80" y="424.60" font-family="Liberation Sans, sans-serif" font-weight="bold" font-size="8.8" text-anchor="end" textLength="13.5" lengthAdjust="spacingAndGlyphs" stroke="#000" stroke-width="0.22">600</text>
<line x1="40.10" y1="400.80" x2="43.30" y2="400.80" stroke="#000" stroke-width="1.3"/>
<text x="39.80" y="404.00" font-family="Liberation Sans, sans-serif" font-weight="bold" font-size="8.8" text-anchor="end" textLength="13.5" lengthAdjust="spacingAndGlyphs" stroke="#000" stroke-width="0.22">800</text>
<line x1="40.10" y1="380.20" x2="43.30" y2="380.20" stroke="#000" stroke-width="1.3"/>
<text x="39.80" y="383.40" font-family="Liberation Sans, sans-serif" font-weight="bold" font-size="8.8" text-anchor="end" textLength="18.0" lengthAdjust="spacingAndGlyphs" stroke="#000" stroke-width="0.22">1000</text>
<line x1="51.95" y1="424.50" x2="51.95" y2="427.50" stroke="#000" stroke-width="1.2"/>
<line x1="49.25" y1="424.50" x2="54.65" y2="424.50" stroke="#000" stroke-width="1.2"/>
<rect x="48.90" y="428.15" width="6.10" height="55.05" fill="#fff" stroke="#000" stroke-width="1.3"/>
<line x1="61.95" y1="415.00" x2="61.95" y2="416.75" stroke="#000" stroke-width="1.2"/>
<line x1="59.25" y1="415.00" x2="64.65" y2="415.00" stroke="#000" stroke-width="1.2"/>
<rect x="58.90" y="417.40" width="6.10" height="65.80" fill="#000" stroke="#000" stroke-width="1.3"/>
<line x1="71.95" y1="404.50" x2="71.95" y2="406.75" stroke="#000" stroke-width="1.2"/>
<line x1="69.25" y1="404.50" x2="74.65" y2="404.50" stroke="#000" stroke-width="1.2"/>
<rect x="68.90" y="407.40" width="6.10" height="75.80" fill="url(#ph)" stroke="#000" stroke-width="1.3"/>
<line x1="88.20" y1="419.50" x2="88.20" y2="424.25" stroke="#000" stroke-width="1.2"/>
<line x1="85.50" y1="419.50" x2="90.90" y2="419.50" stroke="#000" stroke-width="1.2"/>
<rect x="85.15" y="424.90" width="6.10" height="58.30" fill="#fff" stroke="#000" stroke-width="1.3"/>
<line x1="98.20" y1="405.50" x2="98.20" y2="408.00" stroke="#000" stroke-width="1.2"/>
<line x1="95.50" y1="405.50" x2="100.90" y2="405.50" stroke="#000" stroke-width="1.2"/>
<rect x="95.15" y="408.65" width="6.10" height="74.55" fill="#000" stroke="#000" stroke-width="1.3"/>
<line x1="108.20" y1="393.00" x2="108.20" y2="396.25" stroke="#000" stroke-width="1.2"/>
<line x1="105.50" y1="393.00" x2="110.90" y2="393.00" stroke="#000" stroke-width="1.2"/>
<rect x="105.15" y="396.90" width="6.10" height="86.30" fill="url(#ph)" stroke="#000" stroke-width="1.3"/>
<line x1="124.80" y1="438.25" x2="124.80" y2="441.75" stroke="#000" stroke-width="1.2"/>
<line x1="122.10" y1="438.25" x2="127.50" y2="438.25" stroke="#000" stroke-width="1.2"/>
<rect x="121.75" y="442.40" width="6.10" height="40.80" fill="#fff" stroke="#000" stroke-width="1.3"/>
<line x1="134.80" y1="417.50" x2="134.80" y2="421.25" stroke="#000" stroke-width="1.2"/>
<line x1="132.10" y1="417.50" x2="137.50" y2="417.50" stroke="#000" stroke-width="1.2"/>
<rect x="131.75" y="421.90" width="6.10" height="61.30" fill="#000" stroke="#000" stroke-width="1.3"/>
<line x1="144.80" y1="408.75" x2="144.80" y2="411.25" stroke="#000" stroke-width="1.2"/>
<line x1="142.10" y1="408.75" x2="147.50" y2="408.75" stroke="#000" stroke-width="1.2"/>
<rect x="141.75" y="411.90" width="6.10" height="71.30" fill="url(#ph)" stroke="#000" stroke-width="1.3"/>
<line x1="161.70" y1="436.25" x2="161.70" y2="438.75" stroke="#000" stroke-width="1.2"/>
<line x1="159.00" y1="436.25" x2="164.40" y2="436.25" stroke="#000" stroke-width="1.2"/>
<rect x="158.65" y="439.40" width="6.10" height="43.80" fill="#fff" stroke="#000" stroke-width="1.3"/>
<line x1="171.70" y1="424.50" x2="171.70" y2="425.75" stroke="#000" stroke-width="1.2"/>
<line x1="169.00" y1="424.50" x2="174.40" y2="424.50" stroke="#000" stroke-width="1.2"/>
<rect x="168.65" y="426.40" width="6.10" height="56.80" fill="#000" stroke="#000" stroke-width="1.3"/>
<line x1="181.70" y1="418.75" x2="181.70" y2="420.50" stroke="#000" stroke-width="1.2"/>
<line x1="179.00" y1="418.75" x2="184.40" y2="418.75" stroke="#000" stroke-width="1.2"/>
<rect x="178.65" y="421.15" width="6.10" height="62.05" fill="url(#ph)" stroke="#000" stroke-width="1.3"/>
<line x1="61.85" y1="483.20" x2="61.85" y2="486.60" stroke="#000" stroke-width="1.1"/>
<line x1="98.10" y1="483.20" x2="98.10" y2="486.60" stroke="#000" stroke-width="1.1"/>
<line x1="134.70" y1="483.20" x2="134.70" y2="486.60" stroke="#000" stroke-width="1.1"/>
<line x1="171.60" y1="483.20" x2="171.60" y2="486.60" stroke="#000" stroke-width="1.1"/>
<text x="64.05" y="493.70" font-family="Liberation Sans, sans-serif" font-weight="bold" font-size="8.9" text-anchor="end" textLength="50.8" lengthAdjust="spacingAndGlyphs" transform="rotate(-45 64.05 493.70)" stroke="#000" stroke-width="0.22">CD4-CFSEhi</text>
<text x="100.30" y="493.70" font-family="Liberation Sans, sans-serif" font-weight="bold" font-size="8.9" text-anchor="end" textLength="50.8" lengthAdjust="spacingAndGlyphs" transform="rotate(-45 100.30 493.70)" stroke="#000" stroke-width="0.22">CD4-CFSElo</text>
<text x="136.90" y="493.70" font-family="Liberation Sans, sans-serif" font-weight="bold" font-size="8.9" text-anchor="end" textLength="50.8" lengthAdjust="spacingAndGlyphs" transform="rotate(-45 136.90 493.70)" stroke="#000" stroke-width="0.22">CD8-CFSEhi</text>
<text x="173.80" y="493.70" font-family="Liberation Sans, sans-serif" font-weight="bold" font-size="8.9" text-anchor="end" textLength="50.8" lengthAdjust="spacingAndGlyphs" transform="rotate(-45 173.80 493.70)" stroke="#000" stroke-width="0.22">CD8-CFSElo</text>
<text x="15.70" y="429.80" font-family="Liberation Sans, sans-serif" font-weight="bold" font-size="9" text-anchor="middle" textLength="56.6" lengthAdjust="spacingAndGlyphs" transform="rotate(-90 15.70 429.80)" stroke="#000" stroke-width="0.22">TMRM (MFI)</text>
<line x1="51.75" y1="403.25" x2="61.25" y2="403.25" stroke="#000" stroke-width="1.5"/>
<line x1="51.75" y1="399.65" x2="51.75" y2="406.85" stroke="#000" stroke-width="1.5"/>
<line x1="61.25" y1="399.65" x2="61.25" y2="406.85" stroke="#000" stroke-width="1.5"/>
<text x="56.50" y="394.60" font-family="DejaVu Sans, sans-serif" font-size="6.4" text-anchor="middle" stroke="#000" stroke-width="0.3">★</text>
<line x1="62.00" y1="382.50" x2="71.75" y2="382.50" stroke="#000" stroke-width="1.5"/>
<line x1="62.00" y1="378.90" x2="62.00" y2="386.10" stroke="#000" stroke-width="1.5"/>
<line x1="71.75" y1="378.90" x2="71.75" y2="386.10" stroke="#000" stroke-width="1.5"/>
<text x="63.85" y="373.60" font-family="DejaVu Sans, sans-serif" font-size="6.4" text-anchor="middle" stroke="#000" stroke-width="0.3">★</text>
<text x="71.15" y="373.60" font-family="DejaVu Sans, sans-serif" font-size="6.4" text-anchor="middle" stroke="#000" stroke-width="0.3">★</text>
<line x1="88.75" y1="395.00" x2="98.50" y2="395.00" stroke="#000" stroke-width="1.5"/>
<line x1="88.75" y1="391.40" x2="88.75" y2="398.60" stroke="#000" stroke-width="1.5"/>
<line x1="98.50" y1="391.40" x2="98.50" y2="398.60" stroke="#000" stroke-width="1.5"/>
<text x="93.62" y="386.70" font-family="DejaVu Sans, sans-serif" font-size="6.4" text-anchor="middle" stroke="#000" stroke-width="0.3">★</text>
<line x1="98.75" y1="373.25" x2="108.50" y2="373.25" stroke="#000" stroke-width="1.5"/>
<line x1="98.75" y1="369.65" x2="98.75" y2="376.85" stroke="#000" stroke-width="1.5"/>
<line x1="108.50" y1="369.65" x2="108.50" y2="376.85" stroke="#000" stroke-width="1.5"/>
<text x="103.62" y="364.30" font-family="DejaVu Sans, sans-serif" font-size="6.4" text-anchor="middle" stroke="#000" stroke-width="0.3">★</text>
<line x1="126.25" y1="381.75" x2="146.25" y2="381.75" stroke="#000" stroke-width="1.5"/>
<line x1="126.25" y1="378.15" x2="126.25" y2="385.35" stroke="#000" stroke-width="1.5"/>
<line x1="146.25" y1="378.15" x2="146.25" y2="385.35" stroke="#000" stroke-width="1.5"/>
<text x="128.95" y="373.20" font-family="DejaVu Sans, sans-serif" font-size="6.4" text-anchor="middle" stroke="#000" stroke-width="0.3">★</text>
<text x="136.25" y="373.20" font-family="DejaVu Sans, sans-serif" font-size="6.4" text-anchor="middle" stroke="#000" stroke-width="0.3">★</text>
<text x="143.55" y="373.20" font-family="DejaVu Sans, sans-serif" font-size="6.4" text-anchor="middle" stroke="#000" stroke-width="0.3">★</text>
<line x1="125.50" y1="405.75" x2="135.00" y2="405.75" stroke="#000" stroke-width="1.5"/>
<line x1="125.50" y1="402.15" x2="125.50" y2="409.35" stroke="#000" stroke-width="1.5"/>
<line x1="135.00" y1="402.15" x2="135.00" y2="409.35" stroke="#000" stroke-width="1.5"/>
<text x="127.35" y="396.80" font-family="DejaVu Sans, sans-serif" font-size="6.4" text-anchor="middle" stroke="#000" stroke-width="0.3">★</text>
<text x="134.65" y="396.80" font-family="DejaVu Sans, sans-serif" font-size="6.4" text-anchor="middle" stroke="#000" stroke-width="0.3">★</text>
<line x1="162.00" y1="413.75" x2="171.75" y2="413.75" stroke="#000" stroke-width="1.5"/>
<line x1="162.00" y1="410.15" x2="162.00" y2="417.35" stroke="#000" stroke-width="1.5"/>
<line x1="171.75" y1="410.15" x2="171.75" y2="417.35" stroke="#000" stroke-width="1.5"/>
<text x="163.75" y="404.25" font-family="DejaVu Sans, sans-serif" font-size="6.4" text-anchor="middle" stroke="#000" stroke-width="0.3">★</text>
<text x="171.05" y="404.25" font-family="DejaVu Sans, sans-serif" font-size="6.4" text-anchor="middle" stroke="#000" stroke-width="0.3">★</text>
<line x1="171.75" y1="391.25" x2="181.25" y2="391.25" stroke="#000" stroke-width="1.5"/>
<line x1="171.75" y1="387.65" x2="171.75" y2="394.85" stroke="#000" stroke-width="1.5"/>
<line x1="181.25" y1="387.65" x2="181.25" y2="394.85" stroke="#000" stroke-width="1.5"/>
<text x="176.50" y="383.00" font-family="DejaVu Sans, sans-serif" font-size="6.4" text-anchor="middle" stroke="#000" stroke-width="0.3">★</text>
<line x1="370.40" y1="381.70" x2="370.40" y2="484.30" stroke="#000" stroke-width="1.45"/>
<line x1="369.70" y1="483.60" x2="518.80" y2="483.60" stroke="#000" stroke-width="1.5"/>
<line x1="367.20" y1="483.60" x2="370.40" y2="483.60" stroke="#000" stroke-width="1.3"/>
<text x="366.90" y="486.80" font-family="Liberation Sans, sans-serif" font-weight="bold" font-size="8.8" text-anchor="end" textLength="4.5" lengthAdjust="spacingAndGlyphs" stroke="#000" stroke-width="0.22">0</text>
<line x1="367.20" y1="469.13" x2="370.40" y2="469.13" stroke="#000" stroke-width="1.3"/>
<text x="366.90" y="472.33" font-family="Liberation Sans, sans-serif" font-weight="bold" font-size="8.8" text-anchor="end" textLength="9.0" lengthAdjust="spacingAndGlyphs" stroke="#000" stroke-width="0.22">10</text>
<line x1="367.20" y1="454.66" x2="370.40" y2="454.66" stroke="#000" stroke-width="1.3"/>
<text x="366.90" y="457.86" font-family="Liberation Sans, sans-serif" font-weight="bold" font-size="8.8" text-anchor="end" textLength="9.0" lengthAdjust="spacingAndGlyphs" stroke="#000" stroke-width="0.22">20</text>
<line x1="367.20" y1="440.19" x2="370.40" y2="440.19" stroke="#000" stroke-width="1.3"/>
<text x="366.90" y="443.39" font-family="Liberation Sans, sans-serif" font-weight="bold" font-size="8.8" text-anchor="end" textLength="9.0" lengthAdjust="spacingAndGlyphs" stroke="#000" stroke-width="0.22">30</text>
<line x1="367.20" y1="425.72" x2="370.40" y2="425.72" stroke="#000" stroke-width="1.3"/>
<text x="366.90" y="428.92" font-family="Liberation Sans, sans-serif" font-weight="bold" font-size="8.8" text-anchor="end" textLength="9.0" lengthAdjust="spacingAndGlyphs" stroke="#000" stroke-width="0.22">40</text>
<line x1="367.20" y1="411.25" x2="370.40" y2="411.25" stroke="#000" stroke-width="1.3"/>
<text x="366.90" y="414.45" font-family="Liberation Sans, sans-serif" font-weight="bold" font-size="8.8" text-anchor="end" textLength="9.0" lengthAdjust="spacingAndGlyphs" stroke="#000" stroke-width="0.22">50</text>
<line x1="367.20" y1="396.78" x2="370.40" y2="396.78" stroke="#000" stroke-width="1.3"/>
<text x="366.90" y="399.98" font-family="Liberation Sans, sans-serif" font-weight="bold" font-size="8.8" text-anchor="end" textLength="9.0" lengthAdjust="spacingAndGlyphs" stroke="#000" stroke-width="0.22">60</text>
<line x1="367.20" y1="382.31" x2="370.40" y2="382.31" stroke="#000" stroke-width="1.3"/>
<text x="366.90" y="385.51" font-family="Liberation Sans, sans-serif" font-weight="bold" font-size="8.8" text-anchor="end" textLength="9.0" lengthAdjust="spacingAndGlyphs" stroke="#000" stroke-width="0.22">70</text>
<line x1="378.80" y1="452.50" x2="378.80" y2="455.00" stroke="#000" stroke-width="1.2"/>
<line x1="376.10" y1="452.50" x2="381.50" y2="452.50" stroke="#000" stroke-width="1.2"/>
<rect x="375.65" y="455.65" width="6.30" height="27.95" fill="#fff" stroke="#000" stroke-width="1.3"/>
<line x1="388.90" y1="457.30" x2="388.90" y2="458.00" stroke="#000" stroke-width="1.2"/>
<line x1="386.20" y1="457.30" x2="391.60" y2="457.30" stroke="#000" stroke-width="1.2"/>
<rect x="385.75" y="458.65" width="6.30" height="24.95" fill="#000" stroke="#000" stroke-width="1.3"/>
<line x1="399.00" y1="447.50" x2="399.00" y2="450.50" stroke="#000" stroke-width="1.2"/>
<line x1="396.30" y1="447.50" x2="401.70" y2="447.50" stroke="#000" stroke-width="1.2"/>
<rect x="395.85" y="451.15" width="6.30" height="32.45" fill="url(#ph)" stroke="#000" stroke-width="1.3"/>
<line x1="415.80" y1="447.00" x2="415.80" y2="449.50" stroke="#000" stroke-width="1.2"/>
<line x1="413.10" y1="447.00" x2="418.50" y2="447.00" stroke="#000" stroke-width="1.2"/>
<rect x="412.65" y="450.15" width="6.30" height="33.45" fill="#fff" stroke="#000" stroke-width="1.3"/>
<line x1="425.90" y1="432.50" x2="425.90" y2="434.50" stroke="#000" stroke-width="1.2"/>
<line x1="423.20" y1="432.50" x2="428.60" y2="432.50" stroke="#000" stroke-width="1.2"/>
<rect x="422.75" y="435.15" width="6.30" height="48.45" fill="#000" stroke="#000" stroke-width="1.3"/>
<line x1="436.00" y1="410.00" x2="436.00" y2="413.70" stroke="#000" stroke-width="1.2"/>
<line x1="433.30" y1="410.00" x2="438.70" y2="410.00" stroke="#000" stroke-width="1.2"/>
<rect x="432.85" y="414.35" width="6.30" height="69.25" fill="url(#ph)" stroke="#000" stroke-width="1.3"/>
<line x1="453.00" y1="463.80" x2="453.00" y2="466.20" stroke="#000" stroke-width="1.2"/>
<line x1="450.30" y1="463.80" x2="455.70" y2="463.80" stroke="#000" stroke-width="1.2"/>
<rect x="449.85" y="466.85" width="6.30" height="16.75" fill="#fff" stroke="#000" stroke-width="1.3"/>
<line x1="463.10" y1="452.30" x2="463.10" y2="455.20" stroke="#000" stroke-width="1.2"/>
<line x1="460.40" y1="452.30" x2="465.80" y2="452.30" stroke="#000" stroke-width="1.2"/>
<rect x="459.95" y="455.85" width="6.30" height="27.75" fill="#000" stroke="#000" stroke-width="1.3"/>
<line x1="473.20" y1="448.00" x2="473.20" y2="448.80" stroke="#000" stroke-width="1.2"/>
<line x1="470.50" y1="448.00" x2="475.90" y2="448.00" stroke="#000" stroke-width="1.2"/>
<rect x="470.05" y="449.45" width="6.30" height="34.15" fill="url(#ph)" stroke="#000" stroke-width="1.3"/>
<line x1="490.50" y1="441.70" x2="490.50" y2="445.00" stroke="#000" stroke-width="1.2"/>
<line x1="487.80" y1="441.70" x2="493.20" y2="441.70" stroke="#000" stroke-width="1.2"/>
<rect x="487.35" y="445.65" width="6.30" height="37.95" fill="#fff" stroke="#000" stroke-width="1.3"/>
<line x1="500.60" y1="408.80" x2="500.60" y2="412.00" stroke="#000" stroke-width="1.2"/>
<line x1="497.90" y1="408.80" x2="503.30" y2="408.80" stroke="#000" stroke-width="1.2"/>
<rect x="497.45" y="412.65" width="6.30" height="70.95" fill="#000" stroke="#000" stroke-width="1.3"/>
<line x1="510.70" y1="383.50" x2="510.70" y2="386.70" stroke="#000" stroke-width="1.2"/>
<line x1="508.00" y1="383.50" x2="513.40" y2="383.50" stroke="#000" stroke-width="1.2"/>
<rect x="507.55" y="387.35" width="6.30" height="96.25" fill="url(#ph)" stroke="#000" stroke-width="1.3"/>
<line x1="388.75" y1="483.60" x2="388.75" y2="487.00" stroke="#000" stroke-width="1.1"/>
<line x1="426.00" y1="483.60" x2="426.00" y2="487.00" stroke="#000" stroke-width="1.1"/>
<line x1="463.30" y1="483.60" x2="463.30" y2="487.00" stroke="#000" stroke-width="1.1"/>
<line x1="500.80" y1="483.60" x2="500.80" y2="487.00" stroke="#000" stroke-width="1.1"/>
<text x="390.55" y="493.70" font-family="Liberation Sans, sans-serif" font-weight="bold" font-size="8.9" text-anchor="end" textLength="50.8" lengthAdjust="spacingAndGlyphs" transform="rotate(-45 390.55 493.70)" stroke="#000" stroke-width="0.22">CD4-CFSEhi</text>
<text x="427.80" y="493.70" font-family="Liberation Sans, sans-serif" font-weight="bold" font-size="8.9" text-anchor="end" textLength="50.8" lengthAdjust="spacingAndGlyphs" transform="rotate(-45 427.80 493.70)" stroke="#000" stroke-width="0.22">CD4-CFSElo</text>
<text x="465.10" y="493.70" font-family="Liberation Sans, sans-serif" font-weight="bold" font-size="8.9" text-anchor="end" textLength="50.8" lengthAdjust="spacingAndGlyphs" transform="rotate(-45 465.10 493.70)" stroke="#000" stroke-width="0.22">CD8-CFSEhi</text>
<text x="502.60" y="493.70" font-family="Liberation Sans, sans-serif" font-weight="bold" font-size="8.9" text-anchor="end" textLength="50.8" lengthAdjust="spacingAndGlyphs" transform="rotate(-45 502.60 493.70)" stroke="#000" stroke-width="0.22">CD8-CFSElo</text>
<text x="345.90" y="431.40" font-family="Liberation Sans, sans-serif" font-weight="bold" font-size="9" text-anchor="middle" textLength="49.0" lengthAdjust="spacingAndGlyphs" transform="rotate(-90 345.90 431.40)" stroke="#000" stroke-width="0.22">% DHE +ve</text>
<line x1="390.00" y1="438.20" x2="399.50" y2="438.20" stroke="#000" stroke-width="1.5"/>
<line x1="390.00" y1="434.60" x2="390.00" y2="441.80" stroke="#000" stroke-width="1.5"/>
<line x1="399.50" y1="434.60" x2="399.50" y2="441.80" stroke="#000" stroke-width="1.5"/>
<text x="394.75" y="430.30" font-family="DejaVu Sans, sans-serif" font-size="6.4" text-anchor="middle" stroke="#000" stroke-width="0.3">★</text>
<line x1="415.75" y1="422.50" x2="425.75" y2="422.50" stroke="#000" stroke-width="1.5"/>
<line x1="415.75" y1="418.90" x2="415.75" y2="426.10" stroke="#000" stroke-width="1.5"/>
<line x1="425.75" y1="418.90" x2="425.75" y2="426.10" stroke="#000" stroke-width="1.5"/>
<text x="413.45" y="415.00" font-family="DejaVu Sans, sans-serif" font-size="6.4" text-anchor="middle" stroke="#000" stroke-width="0.3">★</text>
<text x="420.75" y="415.00" font-family="DejaVu Sans, sans-serif" font-size="6.4" text-anchor="middle" stroke="#000" stroke-width="0.3">★</text>
<text x="428.05" y="415.00" font-family="DejaVu Sans, sans-serif" font-size="6.4" text-anchor="middle" stroke="#000" stroke-width="0.3">★</text>
<line x1="426.00" y1="401.20" x2="436.30" y2="401.20" stroke="#000" stroke-width="1.5"/>
<line x1="426.00" y1="397.60" x2="426.00" y2="404.80" stroke="#000" stroke-width="1.5"/>
<line x1="436.30" y1="397.60" x2="436.30" y2="404.80" stroke="#000" stroke-width="1.5"/>
<text x="424.70" y="393.10" font-family="DejaVu Sans, sans-serif" font-size="6.4" text-anchor="middle" stroke="#000" stroke-width="0.3">★</text>
<text x="432.00" y="393.10" font-family="DejaVu Sans, sans-serif" font-size="6.4" text-anchor="middle" stroke="#000" stroke-width="0.3">★</text>
<text x="439.30" y="393.10" font-family="DejaVu Sans, sans-serif" font-size="6.4" text-anchor="middle" stroke="#000" stroke-width="0.3">★</text>
<line x1="453.70" y1="421.70" x2="473.80" y2="421.70" stroke="#000" stroke-width="1.5"/>
<line x1="453.70" y1="418.10" x2="453.70" y2="425.30" stroke="#000" stroke-width="1.5"/>
<line x1="473.80" y1="418.10" x2="473.80" y2="425.30" stroke="#000" stroke-width="1.5"/>
<text x="456.45" y="413.70" font-family="DejaVu Sans, sans-serif" font-size="6.4" text-anchor="middle" stroke="#000" stroke-width="0.3">★</text>
<text x="463.75" y="413.70" font-family="DejaVu Sans, sans-serif" font-size="6.4" text-anchor="middle" stroke="#000" stroke-width="0.3">★</text>
<text x="471.05" y="413.70" font-family="DejaVu Sans, sans-serif" font-size="6.4" text-anchor="middle" stroke="#000" stroke-width="0.3">★</text>
<line x1="453.70" y1="441.50" x2="463.30" y2="441.50" stroke="#000" stroke-width="1.5"/>
<line x1="453.70" y1="437.90" x2="453.70" y2="445.10" stroke="#000" stroke-width="1.5"/>
<line x1="463.30" y1="437.90" x2="463.30" y2="445.10" stroke="#000" stroke-width="1.5"/>
<text x="458.50" y="434.50" font-family="DejaVu Sans, sans-serif" font-size="6.4" text-anchor="middle" stroke="#000" stroke-width="0.3">★</text>
<line x1="490.20" y1="398.30" x2="500.20" y2="398.30" stroke="#000" stroke-width="1.5"/>
<line x1="490.20" y1="394.70" x2="490.20" y2="401.90" stroke="#000" stroke-width="1.5"/>
<line x1="500.20" y1="394.70" x2="500.20" y2="401.90" stroke="#000" stroke-width="1.5"/>
<text x="487.30" y="390.50" font-family="DejaVu Sans, sans-serif" font-size="6.4" text-anchor="middle" stroke="#000" stroke-width="0.3">★</text>
<text x="494.60" y="390.50" font-family="DejaVu Sans, sans-serif" font-size="6.4" text-anchor="middle" stroke="#000" stroke-width="0.3">★</text>
<text x="501.90" y="390.50" font-family="DejaVu Sans, sans-serif" font-size="6.4" text-anchor="middle" stroke="#000" stroke-width="0.3">★</text>
<line x1="500.80" y1="373.30" x2="511.00" y2="373.30" stroke="#000" stroke-width="1.5"/>
<line x1="500.80" y1="369.70" x2="500.80" y2="376.90" stroke="#000" stroke-width="1.5"/>
<line x1="511.00" y1="369.70" x2="511.00" y2="376.90" stroke="#000" stroke-width="1.5"/>
<text x="498.90" y="365.20" font-family="DejaVu Sans, sans-serif" font-size="6.4" text-anchor="middle" stroke="#000" stroke-width="0.3">★</text>
<text x="506.20" y="365.20" font-family="DejaVu Sans, sans-serif" font-size="6.4" text-anchor="middle" stroke="#000" stroke-width="0.3">★</text>
<text x="513.50" y="365.20" font-family="DejaVu Sans, sans-serif" font-size="6.4" text-anchor="middle" stroke="#000" stroke-width="0.3">★</text>
<line x1="43.75" y1="563.60" x2="43.75" y2="669.00" stroke="#000" stroke-width="1.45"/>
<line x1="43.05" y1="668.30" x2="190.50" y2="668.30" stroke="#000" stroke-width="1.5"/>
<line x1="40.55" y1="668.30" x2="43.75" y2="668.30" stroke="#000" stroke-width="1.3"/>
<text x="40.25" y="671.50" font-family="Liberation Sans, sans-serif" font-weight="bold" font-size="8.8" text-anchor="end" textLength="4.5" lengthAdjust="spacingAndGlyphs" stroke="#000" stroke-width="0.22">0</text>
<line x1="40.55" y1="633.60" x2="43.75" y2="633.60" stroke="#000" stroke-width="1.3"/>
<text x="40.25" y="636.80" font-family="Liberation Sans, sans-serif" font-weight="bold" font-size="8.8" text-anchor="end" textLength="9.0" lengthAdjust="spacingAndGlyphs" stroke="#000" stroke-width="0.22">20</text>
<line x1="40.55" y1="598.90" x2="43.75" y2="598.90" stroke="#000" stroke-width="1.3"/>
<text x="40.25" y="602.10" font-family="Liberation Sans, sans-serif" font-weight="bold" font-size="8.8" text-anchor="end" textLength="9.0" lengthAdjust="spacingAndGlyphs" stroke="#000" stroke-width="0.22">40</text>
<line x1="40.55" y1="564.20" x2="43.75" y2="564.20" stroke="#000" stroke-width="1.3"/>
<text x="40.25" y="567.40" font-family="Liberation Sans, sans-serif" font-weight="bold" font-size="8.8" text-anchor="end" textLength="9.0" lengthAdjust="spacingAndGlyphs" stroke="#000" stroke-width="0.22">60</text>
<line x1="60.50" y1="639.60" x2="60.50" y2="640.00" stroke="#000" stroke-width="1.2"/>
<line x1="56.75" y1="639.60" x2="64.25" y2="639.60" stroke="#000" stroke-width="1.2"/>
<rect x="53.90" y="640.65" width="13.20" height="27.65" fill="#fff" stroke="#000" stroke-width="1.3"/>
<line x1="81.00" y1="635.30" x2="81.00" y2="635.75" stroke="#000" stroke-width="1.2"/>
<line x1="77.25" y1="635.30" x2="84.75" y2="635.30" stroke="#000" stroke-width="1.2"/>
<rect x="74.40" y="636.40" width="13.20" height="31.90" fill="#000" stroke="#000" stroke-width="1.3"/>
<line x1="100.65" y1="629.60" x2="100.65" y2="630.00" stroke="#000" stroke-width="1.2"/>
<line x1="96.90" y1="629.60" x2="104.40" y2="629.60" stroke="#000" stroke-width="1.2"/>
<rect x="94.05" y="630.65" width="13.20" height="37.65" fill="url(#ph)" stroke="#000" stroke-width="1.3"/>
<line x1="134.25" y1="660.10" x2="134.25" y2="660.50" stroke="#000" stroke-width="1.2"/>
<line x1="130.50" y1="660.10" x2="138.00" y2="660.10" stroke="#000" stroke-width="1.2"/>
<rect x="127.65" y="661.15" width="13.20" height="7.15" fill="#fff" stroke="#000" stroke-width="1.3"/>
<line x1="154.65" y1="591.25" x2="154.65" y2="595.00" stroke="#000" stroke-width="1.2"/>
<line x1="150.90" y1="591.25" x2="158.40" y2="591.25" stroke="#000" stroke-width="1.2"/>
<rect x="148.05" y="595.65" width="13.20" height="72.65" fill="#000" stroke="#000" stroke-width="1.3"/>
<line x1="174.75" y1="574.25" x2="174.75" y2="576.25" stroke="#000" stroke-width="1.2"/>
<line x1="171.00" y1="574.25" x2="178.50" y2="574.25" stroke="#000" stroke-width="1.2"/>
<rect x="168.15" y="576.90" width="13.20" height="91.40" fill="url(#ph)" stroke="#000" stroke-width="1.3"/>
<line x1="80.60" y1="668.30" x2="80.60" y2="670.90" stroke="#000" stroke-width="1.1"/>
<line x1="154.50" y1="668.30" x2="154.50" y2="670.90" stroke="#000" stroke-width="1.1"/>
<text x="80.50" y="679.80" font-family="Liberation Sans, sans-serif" font-weight="bold" font-size="8.6" text-anchor="middle" textLength="16.3" lengthAdjust="spacingAndGlyphs" stroke="#000" stroke-width="0.22">CD4</text>
<text x="154.50" y="679.80" font-family="Liberation Sans, sans-serif" font-weight="bold" font-size="8.6" text-anchor="middle" textLength="16.3" lengthAdjust="spacingAndGlyphs" stroke="#000" stroke-width="0.22">CD8</text>
<text x="20.10" y="614.50" font-family="Liberation Sans, sans-serif" font-weight="bold" font-size="9" text-anchor="middle" textLength="101.0" lengthAdjust="spacingAndGlyphs" transform="rotate(-90 20.10 614.50)" stroke="#000" stroke-width="0.22">Proliferation capacity</text>
<line x1="61.25" y1="622.00" x2="80.00" y2="622.00" stroke="#000" stroke-width="1.5"/>
<line x1="61.25" y1="618.40" x2="61.25" y2="625.60" stroke="#000" stroke-width="1.5"/>
<line x1="80.00" y1="618.40" x2="80.00" y2="625.60" stroke="#000" stroke-width="1.5"/>
<text x="70.62" y="613.75" font-family="DejaVu Sans, sans-serif" font-size="6.4" text-anchor="middle" stroke="#000" stroke-width="0.3">★</text>
<line x1="80.50" y1="603.30" x2="100.00" y2="603.30" stroke="#000" stroke-width="1.5"/>
<line x1="80.50" y1="599.70" x2="80.50" y2="606.90" stroke="#000" stroke-width="1.5"/>
<line x1="100.00" y1="599.70" x2="100.00" y2="606.90" stroke="#000" stroke-width="1.5"/>
<text x="82.95" y="593.40" font-family="DejaVu Sans, sans-serif" font-size="6.4" text-anchor="middle" stroke="#000" stroke-width="0.3">★</text>
<text x="90.25" y="593.40" font-family="DejaVu Sans, sans-serif" font-size="6.4" text-anchor="middle" stroke="#000" stroke-width="0.3">★</text>
<text x="97.55" y="593.40" font-family="DejaVu Sans, sans-serif" font-size="6.4" text-anchor="middle" stroke="#000" stroke-width="0.3">★</text>
<line x1="134.50" y1="580.00" x2="153.75" y2="580.00" stroke="#000" stroke-width="1.5"/>
<line x1="134.50" y1="576.40" x2="134.50" y2="583.60" stroke="#000" stroke-width="1.5"/>
<line x1="153.75" y1="576.40" x2="153.75" y2="583.60" stroke="#000" stroke-width="1.5"/>
<text x="136.82" y="570.30" font-family="DejaVu Sans, sans-serif" font-size="6.4" text-anchor="middle" stroke="#000" stroke-width="0.3">★</text>
<text x="144.12" y="570.30" font-family="DejaVu Sans, sans-serif" font-size="6.4" text-anchor="middle" stroke="#000" stroke-width="0.3">★</text>
<text x="151.43" y="570.30" font-family="DejaVu Sans, sans-serif" font-size="6.4" text-anchor="middle" stroke="#000" stroke-width="0.3">★</text>
<line x1="154.25" y1="555.50" x2="173.75" y2="555.50" stroke="#000" stroke-width="1.5"/>
<line x1="154.25" y1="551.90" x2="154.25" y2="559.10" stroke="#000" stroke-width="1.5"/>
<line x1="173.75" y1="551.90" x2="173.75" y2="559.10" stroke="#000" stroke-width="1.5"/>
<text x="156.70" y="546.50" font-family="DejaVu Sans, sans-serif" font-size="6.4" text-anchor="middle" stroke="#000" stroke-width="0.3">★</text>
<text x="164.00" y="546.50" font-family="DejaVu Sans, sans-serif" font-size="6.4" text-anchor="middle" stroke="#000" stroke-width="0.3">★</text>
<text x="171.30" y="546.50" font-family="DejaVu Sans, sans-serif" font-size="6.4" text-anchor="middle" stroke="#000" stroke-width="0.3">★</text>
<line x1="369.80" y1="563.90" x2="369.80" y2="668.50" stroke="#000" stroke-width="1.45"/>
<line x1="369.10" y1="667.80" x2="518.30" y2="667.80" stroke="#000" stroke-width="1.5"/>
<line x1="366.60" y1="667.80" x2="369.80" y2="667.80" stroke="#000" stroke-width="1.3"/>
<text x="366.30" y="671.00" font-family="Liberation Sans, sans-serif" font-weight="bold" font-size="8.8" text-anchor="end" textLength="4.5" lengthAdjust="spacingAndGlyphs" stroke="#000" stroke-width="0.22">0</text>
<line x1="366.60" y1="647.16" x2="369.80" y2="647.16" stroke="#000" stroke-width="1.3"/>
<text x="366.30" y="650.36" font-family="Liberation Sans, sans-serif" font-weight="bold" font-size="8.8" text-anchor="end" textLength="4.5" lengthAdjust="spacingAndGlyphs" stroke="#000" stroke-width="0.22">5</text>
<line x1="366.60" y1="626.52" x2="369.80" y2="626.52" stroke="#000" stroke-width="1.3"/>
<text x="366.30" y="629.72" font-family="Liberation Sans, sans-serif" font-weight="bold" font-size="8.8" text-anchor="end" textLength="9.0" lengthAdjust="spacingAndGlyphs" stroke="#000" stroke-width="0.22">10</text>
<line x1="366.60" y1="605.88" x2="369.80" y2="605.88" stroke="#000" stroke-width="1.3"/>
<text x="366.30" y="609.08" font-family="Liberation Sans, sans-serif" font-weight="bold" font-size="8.8" text-anchor="end" textLength="9.0" lengthAdjust="spacingAndGlyphs" stroke="#000" stroke-width="0.22">15</text>
<line x1="366.60" y1="585.24" x2="369.80" y2="585.24" stroke="#000" stroke-width="1.3"/>
<text x="366.30" y="588.44" font-family="Liberation Sans, sans-serif" font-weight="bold" font-size="8.8" text-anchor="end" textLength="9.0" lengthAdjust="spacingAndGlyphs" stroke="#000" stroke-width="0.22">20</text>
<line x1="366.60" y1="564.60" x2="369.80" y2="564.60" stroke="#000" stroke-width="1.3"/>
<text x="366.30" y="567.80" font-family="Liberation Sans, sans-serif" font-weight="bold" font-size="8.8" text-anchor="end" textLength="9.0" lengthAdjust="spacingAndGlyphs" stroke="#000" stroke-width="0.22">25</text>
<line x1="381.80" y1="605.00" x2="381.80" y2="608.00" stroke="#000" stroke-width="1.2"/>
<line x1="378.50" y1="605.00" x2="385.10" y2="605.00" stroke="#000" stroke-width="1.2"/>
<rect x="377.40" y="608.65" width="8.80" height="59.15" fill="#000" stroke="#000" stroke-width="1.3"/>
<line x1="395.65" y1="624.50" x2="395.65" y2="628.75" stroke="#000" stroke-width="1.2"/>
<line x1="392.35" y1="624.50" x2="398.95" y2="624.50" stroke="#000" stroke-width="1.2"/>
<rect x="391.25" y="629.40" width="8.80" height="38.40" fill="url(#ph)" stroke="#000" stroke-width="1.3"/>
<line x1="418.80" y1="575.00" x2="418.80" y2="579.50" stroke="#000" stroke-width="1.2"/>
<line x1="415.50" y1="575.00" x2="422.10" y2="575.00" stroke="#000" stroke-width="1.2"/>
<rect x="414.40" y="580.15" width="8.80" height="87.65" fill="#000" stroke="#000" stroke-width="1.3"/>
<line x1="432.65" y1="616.75" x2="432.65" y2="620.50" stroke="#000" stroke-width="1.2"/>
<line x1="429.35" y1="616.75" x2="435.95" y2="616.75" stroke="#000" stroke-width="1.2"/>
<rect x="428.25" y="621.15" width="8.80" height="46.65" fill="url(#ph)" stroke="#000" stroke-width="1.3"/>
<line x1="455.85" y1="584.60" x2="455.85" y2="588.50" stroke="#000" stroke-width="1.2"/>
<line x1="452.55" y1="584.60" x2="459.15" y2="584.60" stroke="#000" stroke-width="1.2"/>
<rect x="451.45" y="589.15" width="8.80" height="78.65" fill="#000" stroke="#000" stroke-width="1.3"/>
<line x1="470.05" y1="609.00" x2="470.05" y2="613.50" stroke="#000" stroke-width="1.2"/>
<line x1="466.75" y1="609.00" x2="473.35" y2="609.00" stroke="#000" stroke-width="1.2"/>
<rect x="465.65" y="614.15" width="8.80" height="53.65" fill="url(#ph)" stroke="#000" stroke-width="1.3"/>
<line x1="492.95" y1="573.50" x2="492.95" y2="579.60" stroke="#000" stroke-width="1.2"/>
<line x1="489.65" y1="573.50" x2="496.25" y2="573.50" stroke="#000" stroke-width="1.2"/>
<rect x="488.55" y="580.25" width="8.80" height="87.55" fill="#000" stroke="#000" stroke-width="1.3"/>
<line x1="507.35" y1="628.50" x2="507.35" y2="631.20" stroke="#000" stroke-width="1.2"/>
<line x1="504.05" y1="628.50" x2="510.65" y2="628.50" stroke="#000" stroke-width="1.2"/>
<rect x="502.95" y="631.85" width="8.80" height="35.95" fill="url(#ph)" stroke="#000" stroke-width="1.3"/>
<line x1="388.75" y1="667.80" x2="388.75" y2="671.20" stroke="#000" stroke-width="1.1"/>
<line x1="425.50" y1="667.80" x2="425.50" y2="671.20" stroke="#000" stroke-width="1.1"/>
<line x1="462.70" y1="667.80" x2="462.70" y2="671.20" stroke="#000" stroke-width="1.1"/>
<line x1="499.80" y1="667.80" x2="499.80" y2="671.20" stroke="#000" stroke-width="1.1"/>
<text x="390.45" y="677.30" font-family="Liberation Sans, sans-serif" font-weight="bold" font-size="8.9" text-anchor="end" textLength="50.8" lengthAdjust="spacingAndGlyphs" transform="rotate(-45 390.45 677.30)" stroke="#000" stroke-width="0.22">CD4-CFSEhi</text>
<text x="427.20" y="677.30" font-family="Liberation Sans, sans-serif" font-weight="bold" font-size="8.9" text-anchor="end" textLength="50.8" lengthAdjust="spacingAndGlyphs" transform="rotate(-45 427.20 677.30)" stroke="#000" stroke-width="0.22">CD4-CFSElo</text>
<text x="464.40" y="677.30" font-family="Liberation Sans, sans-serif" font-weight="bold" font-size="8.9" text-anchor="end" textLength="50.8" lengthAdjust="spacingAndGlyphs" transform="rotate(-45 464.40 677.30)" stroke="#000" stroke-width="0.22">CD8-CFSEhi</text>
<text x="501.50" y="677.30" font-family="Liberation Sans, sans-serif" font-weight="bold" font-size="8.9" text-anchor="end" textLength="50.8" lengthAdjust="spacingAndGlyphs" transform="rotate(-45 501.50 677.30)" stroke="#000" stroke-width="0.22">CD8-CFSElo</text>
<text x="346.30" y="614.40" font-family="Liberation Sans, sans-serif" font-weight="bold" font-size="9" text-anchor="middle" textLength="80.0" lengthAdjust="spacingAndGlyphs" transform="rotate(-90 346.30 614.40)" stroke="#000" stroke-width="0.22">% Annexin V +ve</text>
<line x1="380.00" y1="593.00" x2="398.00" y2="593.00" stroke="#000" stroke-width="1.5"/>
<line x1="380.00" y1="589.40" x2="380.00" y2="596.60" stroke="#000" stroke-width="1.5"/>
<line x1="398.00" y1="589.40" x2="398.00" y2="596.60" stroke="#000" stroke-width="1.5"/>
<text x="386.25" y="583.50" font-family="DejaVu Sans, sans-serif" font-size="6.4" text-anchor="middle" stroke="#000" stroke-width="0.3">★</text>
<text x="393.55" y="583.50" font-family="DejaVu Sans, sans-serif" font-size="6.4" text-anchor="middle" stroke="#000" stroke-width="0.3">★</text>
<line x1="418.40" y1="561.30" x2="436.40" y2="561.30" stroke="#000" stroke-width="1.5"/>
<line x1="418.40" y1="557.70" x2="418.40" y2="564.90" stroke="#000" stroke-width="1.5"/>
<line x1="436.40" y1="557.70" x2="436.40" y2="564.90" stroke="#000" stroke-width="1.5"/>
<text x="420.10" y="552.90" font-family="DejaVu Sans, sans-serif" font-size="6.4" text-anchor="middle" stroke="#000" stroke-width="0.3">★</text>
<text x="427.40" y="552.90" font-family="DejaVu Sans, sans-serif" font-size="6.4" text-anchor="middle" stroke="#000" stroke-width="0.3">★</text>
<text x="434.70" y="552.90" font-family="DejaVu Sans, sans-serif" font-size="6.4" text-anchor="middle" stroke="#000" stroke-width="0.3">★</text>
<line x1="454.60" y1="572.00" x2="472.50" y2="572.00" stroke="#000" stroke-width="1.5"/>
<line x1="454.60" y1="568.40" x2="454.60" y2="575.60" stroke="#000" stroke-width="1.5"/>
<line x1="472.50" y1="568.40" x2="472.50" y2="575.60" stroke="#000" stroke-width="1.5"/>
<text x="459.90" y="562.50" font-family="DejaVu Sans, sans-serif" font-size="6.4" text-anchor="middle" stroke="#000" stroke-width="0.3">★</text>
<text x="467.20" y="562.50" font-family="DejaVu Sans, sans-serif" font-size="6.4" text-anchor="middle" stroke="#000" stroke-width="0.3">★</text>
<line x1="494.00" y1="562.00" x2="512.00" y2="562.00" stroke="#000" stroke-width="1.5"/>
<line x1="494.00" y1="558.40" x2="494.00" y2="565.60" stroke="#000" stroke-width="1.5"/>
<line x1="512.00" y1="558.40" x2="512.00" y2="565.60" stroke="#000" stroke-width="1.5"/>
<text x="495.70" y="554.20" font-family="DejaVu Sans, sans-serif" font-size="6.4" text-anchor="middle" stroke="#000" stroke-width="0.3">★</text>
<text x="503.00" y="554.20" font-family="DejaVu Sans, sans-serif" font-size="6.4" text-anchor="middle" stroke="#000" stroke-width="0.3">★</text>
<text x="510.30" y="554.20" font-family="DejaVu Sans, sans-serif" font-size="6.4" text-anchor="middle" stroke="#000" stroke-width="0.3">★</text>
</svg>
</body></html>
